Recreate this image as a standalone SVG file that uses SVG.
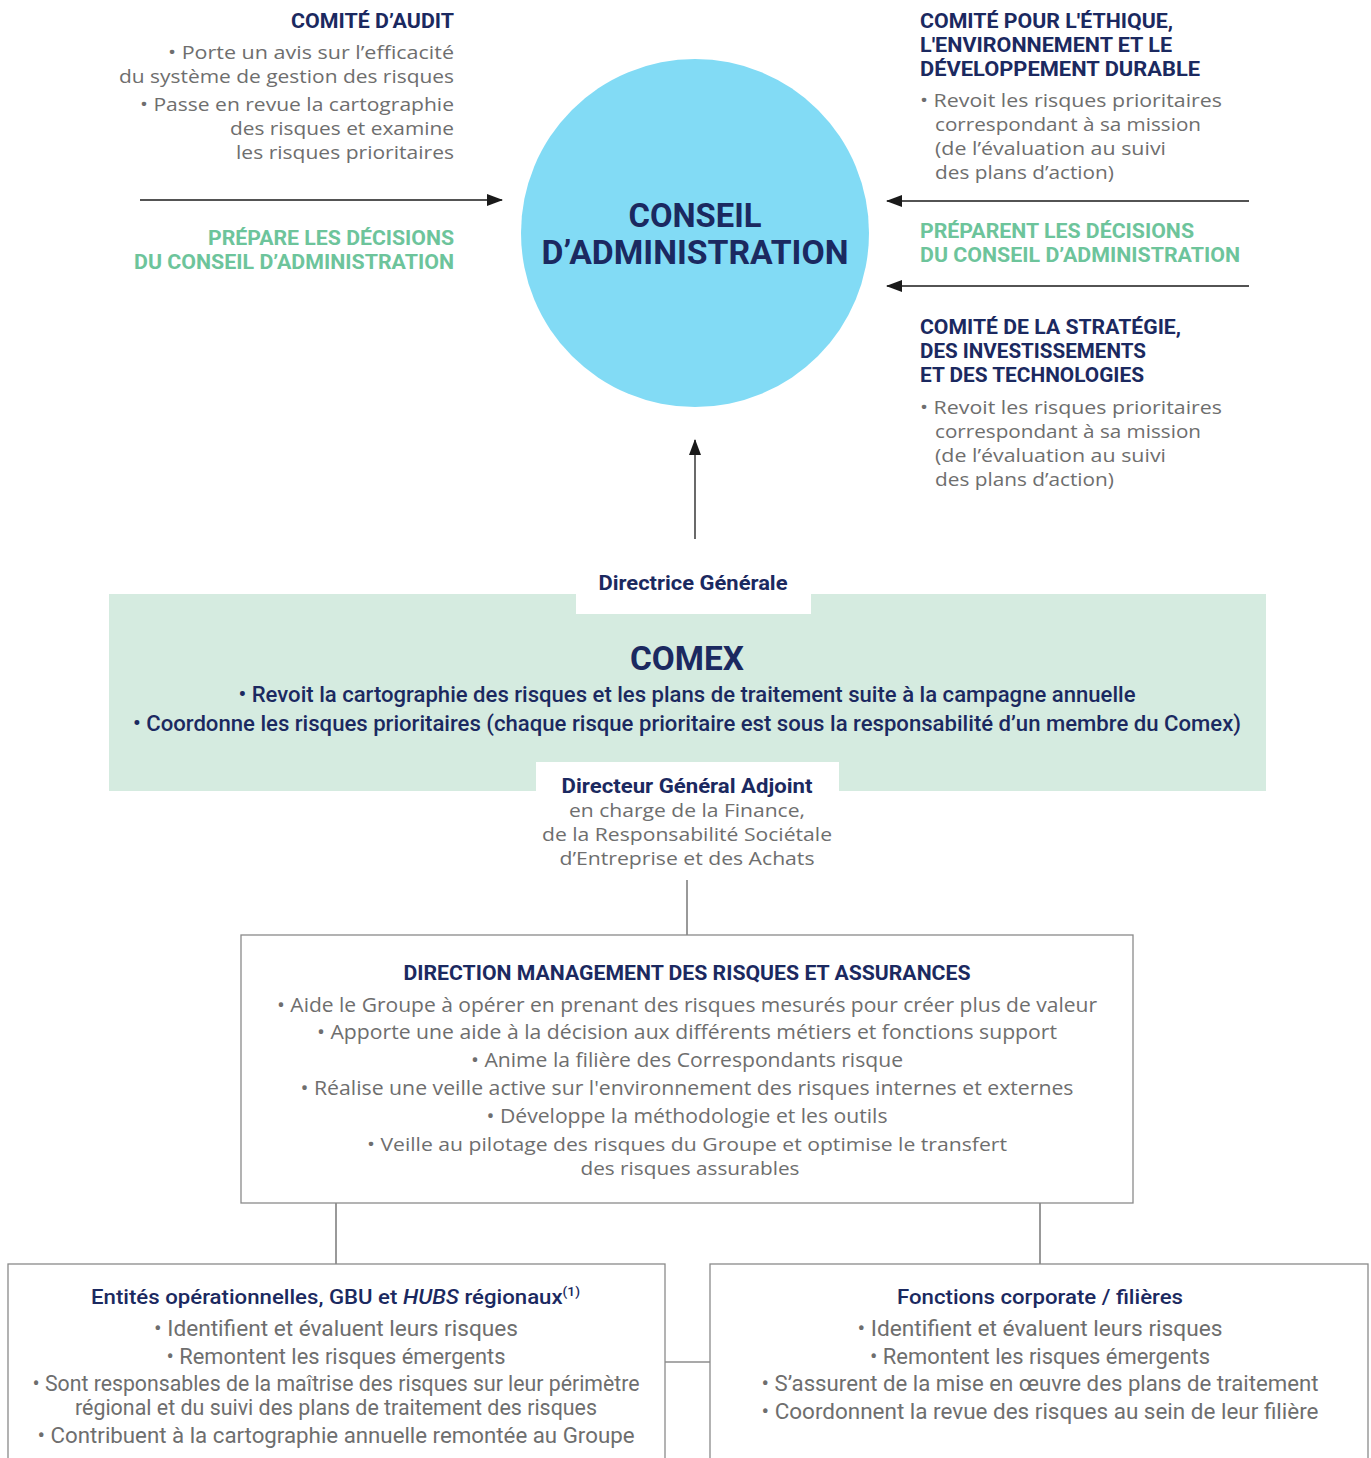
<svg xmlns="http://www.w3.org/2000/svg" width="1371" height="1458" viewBox="0 0 1371 1458">
<defs>
<marker id="ah" viewBox="0 0 16 12" refX="15" refY="6" markerWidth="16" markerHeight="12" markerUnits="userSpaceOnUse" orient="auto">
<path d="M0,0 L16,6 L0,12 Z" fill="#1a1a1a"/>
</marker>
<style>
.h{font-family:Roboto,"Liberation Sans",sans-serif;font-weight:700;fill:#1b2960;}
.g{font-family:"Open Sans","Liberation Sans",sans-serif;font-weight:400;fill:#6e6e6e;}
.gr{font-family:Roboto,"Liberation Sans",sans-serif;font-weight:700;fill:#6dc49b;}
.m{font-family:Roboto,"Liberation Sans",sans-serif;font-weight:500;fill:#1b2960;}
.c{font-family:Roboto,"Liberation Sans",sans-serif;font-weight:400;fill:#6e6e6e;}
.conn{stroke:#1a1a1a;stroke-width:1.3;fill:none;}
.line{stroke:#555;stroke-width:1.2;fill:none;}
.box{fill:#fff;stroke:#8a8a8a;stroke-width:1.3;}
</style>
</defs>
<rect width="1371" height="1458" fill="#fff"/>

<g id="connectors">
<line class="conn" x1="140" y1="200" x2="502" y2="200" marker-end="url(#ah)"/>
<line class="conn" x1="1249" y1="201" x2="887" y2="201" marker-end="url(#ah)"/>
<line class="conn" x1="1249" y1="286" x2="887" y2="286" marker-end="url(#ah)"/>
<line class="conn" x1="695" y1="539" x2="695" y2="440" marker-end="url(#ah)"/>
<line class="line" x1="687" y1="880" x2="687" y2="935"/>
<line class="line" x1="336" y1="1203" x2="336" y2="1264"/>
<line class="line" x1="1040" y1="1203" x2="1040" y2="1264"/>
<line class="line" x1="665" y1="1362" x2="710" y2="1362"/>
</g>

<g id="conseil">
<circle cx="695" cy="233" r="174" fill="#82dbf5"/>
<text class="h" x="695" y="227" font-size="34" text-anchor="middle" textLength="133" lengthAdjust="spacingAndGlyphs">CONSEIL</text>
<text class="h" x="695" y="264" font-size="34" text-anchor="middle" textLength="307" lengthAdjust="spacingAndGlyphs">D’ADMINISTRATION</text>
</g>

<g id="comite-audit">
<text class="h" x="454" y="28" font-size="20" text-anchor="end" textLength="163" lengthAdjust="spacingAndGlyphs">COMITÉ D’AUDIT</text>
<text class="g" x="454" y="59" font-size="19" text-anchor="end" textLength="286" lengthAdjust="spacingAndGlyphs">• Porte un avis sur l’efficacité</text>
<text class="g" x="454" y="83" font-size="19" text-anchor="end" textLength="335" lengthAdjust="spacingAndGlyphs">du système de gestion des risques</text>
<text class="g" x="454" y="111" font-size="19" text-anchor="end" textLength="314" lengthAdjust="spacingAndGlyphs">• Passe en revue la cartographie</text>
<text class="g" x="454" y="135" font-size="19" text-anchor="end" textLength="224" lengthAdjust="spacingAndGlyphs">des risques et examine</text>
<text class="g" x="454" y="159" font-size="19" text-anchor="end" textLength="218" lengthAdjust="spacingAndGlyphs">les risques prioritaires</text>
<text class="gr" x="454" y="245" font-size="20" text-anchor="end" textLength="246" lengthAdjust="spacingAndGlyphs">PRÉPARE LES DÉCISIONS</text>
<text class="gr" x="454" y="269" font-size="20" text-anchor="end" textLength="320" lengthAdjust="spacingAndGlyphs">DU CONSEIL D’ADMINISTRATION</text>
</g>

<g id="comite-ethique">
<text class="h" x="920" y="28" font-size="20" textLength="253" lengthAdjust="spacingAndGlyphs">COMITÉ POUR L'ÉTHIQUE,</text>
<text class="h" x="920" y="52" font-size="20" textLength="252" lengthAdjust="spacingAndGlyphs">L'ENVIRONNEMENT ET LE</text>
<text class="h" x="920" y="76" font-size="20" textLength="280" lengthAdjust="spacingAndGlyphs">DÉVELOPPEMENT DURABLE</text>
<text class="g" x="920" y="107" font-size="19" textLength="302" lengthAdjust="spacingAndGlyphs">• Revoit les risques prioritaires</text>
<text class="g" x="935" y="131" font-size="19" textLength="266" lengthAdjust="spacingAndGlyphs">correspondant à sa mission</text>
<text class="g" x="935" y="155" font-size="19" textLength="231" lengthAdjust="spacingAndGlyphs">(de l’évaluation au suivi</text>
<text class="g" x="935" y="179" font-size="19" textLength="179" lengthAdjust="spacingAndGlyphs">des plans d’action)</text>
</g>

<g id="preparent">
<text class="gr" x="920" y="238" font-size="20" textLength="274" lengthAdjust="spacingAndGlyphs">PRÉPARENT LES DÉCISIONS</text>
<text class="gr" x="920" y="262" font-size="20" textLength="320" lengthAdjust="spacingAndGlyphs">DU CONSEIL D’ADMINISTRATION</text>
</g>

<g id="comite-strategie">
<text class="h" x="920" y="334" font-size="20" textLength="261" lengthAdjust="spacingAndGlyphs">COMITÉ DE LA STRATÉGIE,</text>
<text class="h" x="920" y="358" font-size="20" textLength="226" lengthAdjust="spacingAndGlyphs">DES INVESTISSEMENTS</text>
<text class="h" x="920" y="382" font-size="20" textLength="224" lengthAdjust="spacingAndGlyphs">ET DES TECHNOLOGIES</text>
<text class="g" x="920" y="414" font-size="19" textLength="302" lengthAdjust="spacingAndGlyphs">• Revoit les risques prioritaires</text>
<text class="g" x="935" y="438" font-size="19" textLength="266" lengthAdjust="spacingAndGlyphs">correspondant à sa mission</text>
<text class="g" x="935" y="462" font-size="19" textLength="231" lengthAdjust="spacingAndGlyphs">(de l’évaluation au suivi</text>
<text class="g" x="935" y="486" font-size="19" textLength="179" lengthAdjust="spacingAndGlyphs">des plans d’action)</text>
</g>

<g id="comex">
<rect x="109" y="594" width="1157" height="197" fill="#d5ebe0"/>
<rect x="576" y="594" width="235" height="20" fill="#fff"/>
<rect x="536" y="762" width="303" height="30" fill="#fff"/>
<text class="h" x="693" y="590" font-size="20" text-anchor="middle" textLength="189" lengthAdjust="spacingAndGlyphs">Directrice Générale</text>
<text class="h" x="687" y="670" font-size="34" text-anchor="middle" textLength="114" lengthAdjust="spacingAndGlyphs">COMEX</text>
<text class="m" x="687" y="702" font-size="22" text-anchor="middle" textLength="897" lengthAdjust="spacingAndGlyphs">• Revoit la cartographie des risques et les plans de traitement suite à la campagne annuelle</text>
<text class="m" x="687" y="731" font-size="22" text-anchor="middle" textLength="1108" lengthAdjust="spacingAndGlyphs">• Coordonne les risques prioritaires (chaque risque prioritaire est sous la responsabilité d’un membre du Comex)</text>
<text class="h" x="687" y="793" font-size="20" text-anchor="middle" textLength="251" lengthAdjust="spacingAndGlyphs">Directeur Général Adjoint</text>
<text class="g" x="687" y="817" font-size="19" text-anchor="middle" textLength="236" lengthAdjust="spacingAndGlyphs">en charge de la Finance,</text>
<text class="g" x="687" y="841" font-size="19" text-anchor="middle" textLength="290" lengthAdjust="spacingAndGlyphs">de la Responsabilité Sociétale</text>
<text class="g" x="687" y="865" font-size="19" text-anchor="middle" textLength="255" lengthAdjust="spacingAndGlyphs">d’Entreprise et des Achats</text>
</g>

<g id="direction-risques">
<rect class="box" x="241" y="935" width="892" height="268"/>
<text class="h" x="687" y="980" font-size="20" text-anchor="middle" textLength="567" lengthAdjust="spacingAndGlyphs">DIRECTION MANAGEMENT DES RISQUES ET ASSURANCES</text>
<text class="g" x="687" y="1012" font-size="20" text-anchor="middle" textLength="820" lengthAdjust="spacingAndGlyphs">• Aide le Groupe à opérer en prenant des risques mesurés pour créer plus de valeur</text>
<text class="g" x="687" y="1039" font-size="20" text-anchor="middle" textLength="740" lengthAdjust="spacingAndGlyphs">• Apporte une aide à la décision aux différents métiers et fonctions support</text>
<text class="g" x="687" y="1067" font-size="20" text-anchor="middle" textLength="432" lengthAdjust="spacingAndGlyphs">• Anime la filière des Correspondants risque</text>
<text class="g" x="687" y="1095" font-size="20" text-anchor="middle" textLength="773" lengthAdjust="spacingAndGlyphs">• Réalise une veille active sur l'environnement des risques internes et externes</text>
<text class="g" x="687" y="1123" font-size="20" text-anchor="middle" textLength="401" lengthAdjust="spacingAndGlyphs">• Développe la méthodologie et les outils</text>
<text class="g" x="687" y="1151" font-size="19" text-anchor="middle" textLength="640" lengthAdjust="spacingAndGlyphs">• Veille au pilotage des risques du Groupe et optimise le transfert</text>
<text class="g" x="690" y="1175" font-size="19" text-anchor="middle" textLength="219" lengthAdjust="spacingAndGlyphs">des risques assurables</text>
</g>

<g id="entites-operationnelles">
<rect class="box" x="8" y="1264" width="657" height="200"/>
<text class="m" x="91" y="1304" font-size="21" font-weight="700" textLength="489" lengthAdjust="spacingAndGlyphs">Entités opérationnelles, GBU et <tspan font-style="italic">HUBS</tspan> régionaux<tspan font-size="13" dy="-8">(1)</tspan></text>
<text class="c" x="336" y="1336" font-size="22" text-anchor="middle" textLength="364" lengthAdjust="spacingAndGlyphs">• Identifient et évaluent leurs risques</text>
<text class="c" x="336" y="1364" font-size="22" text-anchor="middle" textLength="339" lengthAdjust="spacingAndGlyphs">• Remontent les risques émergents</text>
<text class="c" x="336" y="1391" font-size="22" text-anchor="middle" textLength="607" lengthAdjust="spacingAndGlyphs">• Sont responsables de la maîtrise des risques sur leur périmètre</text>
<text class="c" x="336" y="1415" font-size="22" text-anchor="middle" textLength="522" lengthAdjust="spacingAndGlyphs">régional et du suivi des plans de traitement des risques</text>
<text class="c" x="336" y="1443" font-size="22" text-anchor="middle" textLength="597" lengthAdjust="spacingAndGlyphs">• Contribuent à la cartographie annuelle remontée au Groupe</text>
</g>

<g id="fonctions-corporate">
<rect class="box" x="710" y="1264" width="658" height="200"/>
<text class="m" x="1040" y="1304" font-size="21" font-weight="700" text-anchor="middle" textLength="286" lengthAdjust="spacingAndGlyphs">Fonctions corporate / filières</text>
<text class="c" x="1040" y="1336" font-size="22" text-anchor="middle" textLength="365" lengthAdjust="spacingAndGlyphs">• Identifient et évaluent leurs risques</text>
<text class="c" x="1040" y="1364" font-size="22" text-anchor="middle" textLength="340" lengthAdjust="spacingAndGlyphs">• Remontent les risques émergents</text>
<text class="c" x="1040" y="1391" font-size="22" text-anchor="middle" textLength="557" lengthAdjust="spacingAndGlyphs">• S’assurent de la mise en œuvre des plans de traitement</text>
<text class="c" x="1040" y="1419" font-size="22" text-anchor="middle" textLength="557" lengthAdjust="spacingAndGlyphs">• Coordonnent la revue des risques au sein de leur filière</text>
</g>
</svg>
